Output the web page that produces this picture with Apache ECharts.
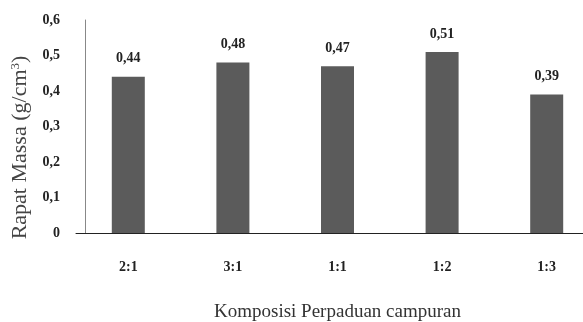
<!DOCTYPE html>
<html>
<head>
<meta charset="utf-8">
<script src="https://cdn.jsdelivr.net/npm/echarts@6/dist/echarts.min.js"></script>
<style>
html,body{margin:0;padding:0;background:#fff;}
#chart{width:583px;height:322px;}
</style>
</head>
<body>
<div id="chart"></div>
<script>
// Mix ratios and their bulk density (g/cm3)
const categories = ['2:1', '3:1', '1:1', '1:2', '1:3'];
const densityValues = [0.44, 0.48, 0.47, 0.51, 0.39];
const yTicks = [0, 0.1, 0.2, 0.3, 0.4, 0.5, 0.6];

const serif = '"Liberation Serif", "DejaVu Serif", serif';
const comma = v => String(v).replace('.', ',');

const chart = echarts.init(document.getElementById('chart'));
chart.setOption({
  animation: false,
  backgroundColor: '#fff',
  grid: { left: 76, right: -16, top: 20, bottom: 89, outerBoundsMode: 'none', containLabel: false },
  xAxis: {
    type: 'category',
    data: categories,
    axisLine: { lineStyle: { color: '#222', width: 1 } },
    axisTick: { show: false },
    axisLabel: { fontFamily: serif, fontWeight: 'bold', fontSize: 14, color: '#222', margin: 27 },
    name: 'Komposisi Perpaduan campuran',
    nameLocation: 'middle',
    nameGap: 70,
    nameTextStyle: { fontFamily: serif, fontSize: 19, color: '#333' }
  },
  yAxis: {
    type: 'value',
    min: 0,
    max: yTicks[yTicks.length - 1],
    interval: 0.1,
    offset: -9,
    splitLine: { show: false },
    axisLine: { show: true, lineStyle: { color: '#888', width: 1 } },
    axisTick: { show: false },
    axisLabel: {
      fontFamily: serif, fontWeight: 'bold', fontSize: 14, color: '#222', margin: 25,
      formatter: v => comma(Math.round(v * 10) / 10)
    },
    name: 'Rapat Massa (g/cm{sup|3})',
    nameLocation: 'middle',
    nameGap: 52,
    nameRotate: 90,
    nameTextStyle: {
      fontFamily: serif, fontSize: 22, color: '#444',
      padding: [0, 42, 0, 0],
      rich: { sup: { fontFamily: serif, fontSize: 13, color: '#444', verticalAlign: 'top', padding: [0, 0, 10, 0] } }
    }
  },
  series: [{
    type: 'bar',
    data: densityValues,
    barWidth: 33,
    itemStyle: { color: '#5b5b5b' },
    label: {
      show: true,
      position: 'top',
      distance: 11,
      fontFamily: serif,
      fontWeight: 'bold',
      fontSize: 14,
      color: '#222',
      formatter: p => comma(p.value)
    }
  }]
});
</script>
</body>
</html>
